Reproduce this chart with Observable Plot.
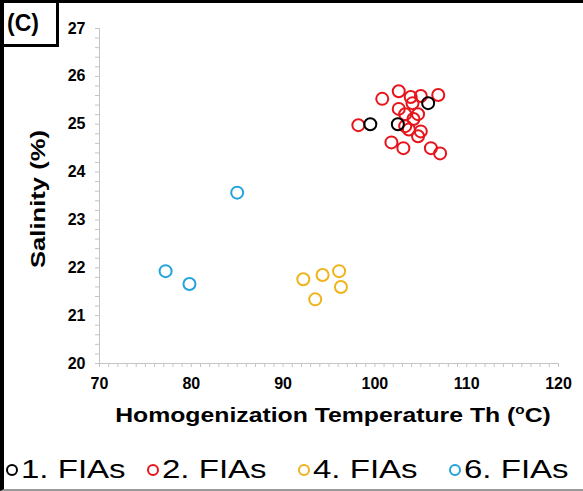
<!DOCTYPE html>
<html><head><meta charset="utf-8">
<script src="https://cdn.jsdelivr.net/npm/d3@7"></script>
<script src="https://cdn.jsdelivr.net/npm/@observablehq/plot@0.6"></script>
<style>
body{margin:0;background:#fff;font-family:"Liberation Sans",Arial,sans-serif;}
#wrap{position:relative;width:583px;height:491px;overflow:hidden;box-sizing:border-box;border-top:3px solid #000;border-left:4px solid #000;border-bottom:2px solid #999;background:#fff;}
#chart{position:absolute;left:-4px;top:-3px;}
#tag{position:absolute;left:0;top:0;width:55px;height:44px;box-sizing:border-box;border-right:3px solid #000;border-bottom:3px solid #000;font-weight:bold;font-size:23px;line-height:41px;padding-left:3px;}
#ylab{position:absolute;left:34px;top:196px;transform:translate(-50%,-50%) rotate(-90deg) scaleX(1.22);font-weight:bold;font-size:21px;white-space:nowrap;}
#xlab{position:absolute;left:329px;top:411px;transform:translate(-50%,-50%) scaleX(1.18);font-weight:bold;font-size:21px;white-space:nowrap;}
#xlab sup{font-size:13px;}
.leg{position:absolute;top:449px;height:34px;white-space:nowrap;}
.leg span.m{position:absolute;left:0;top:12px;width:8px;height:8px;border-radius:50%;border:2px solid;}
.leg span.t{position:absolute;left:15px;top:0;font-size:26px;line-height:34px;transform:scaleX(1.27);transform-origin:0 50%;}
</style></head>
<body>
<div id="wrap">
  <div id="chart"></div>
  <div id="tag">(C)</div>
  <div id="ylab">Salinity (%)</div>
  <div id="xlab">Homogenization Temperature Th (<sup>o</sup>C)</div>
  <div id="legend"></div>
</div>
<script>
const seriesNames = ["1. FIAs", "2. FIAs", "4. FIAs", "6. FIAs"];
const seriesColors = ["#000000", "#e8141b", "#f0b31c", "#22a3dc"];

const fia1Th  = [99.5, 102.5, 105.8];
const fia1Sal = [25.0, 25.0, 25.44];

const fia2Th  = [98.2, 100.8, 102.6, 102.6, 101.8, 103.1, 103.9, 104.1, 105.0, 106.9, 104.7, 103.3, 104.2, 103.7, 105.0, 104.7, 106.1, 107.1, 103.3];
const fia2Sal = [24.98, 25.53, 25.69, 25.32, 24.62, 24.50, 25.57, 25.44, 25.59, 25.61, 25.21, 25.21, 25.11, 24.89, 24.85, 24.75, 24.50, 24.39, 24.96];

const fia4Th  = [92.2, 94.3, 96.1, 96.3, 93.5];
const fia4Sal = [21.76, 21.85, 21.93, 21.6, 21.34];

const fia6Th  = [85.0, 77.2, 79.8];
const fia6Sal = [23.57, 21.93, 21.66];

const xTicks = [70, 80, 90, 100, 110, 120];
const yTicks = [20, 21, 22, 23, 24, 25, 26, 27];

const groups = [[fia2Th, fia2Sal, 1], [fia1Th, fia1Sal, 0], [fia4Th, fia4Sal, 2], [fia6Th, fia6Sal, 3]];
const data = groups.flatMap(([xs, ys, k]) => xs.map((x, i) => ({th: x, sal: ys[i], s: seriesNames[k]})));

const xMinor = d3.range(70, 120.001, 1);
const yMinor = d3.range(20, 27.001, 0.2);

const plot = Plot.plot({
  width: 583, height: 400,
  marginLeft: 99, marginRight: 25, marginTop: 28, marginBottom: 37,
  style: {fontFamily: "'Liberation Sans', Arial, sans-serif", fontSize: "16px", fontWeight: "bold", background: "transparent", color: "#000"},
  x: {domain: [70, 120]},
  y: {domain: [20, 27]},
  color: {domain: seriesNames, range: seriesColors},
  marks: [
    Plot.axisX({ticks: xMinor, tickSize: 4, tickFormat: () => "", stroke: "#c4c4c4", label: null}),
    Plot.axisY({ticks: yMinor, tickSize: 4, tickFormat: () => "", stroke: "#c4c4c4", label: null}),
    Plot.axisX({ticks: xTicks, tickSize: 0, tickPadding: 14, tickFormat: d3.format("d"), fill: "#000", fontSize: 16, fontWeight: "bold", label: null}),
    Plot.axisY({ticks: yTicks, tickSize: 0, tickPadding: 14, tickFormat: d3.format("d"), fill: "#000", fontSize: 16, fontWeight: "bold", label: null}),
    Plot.ruleY([20], {stroke: "#c4c4c4"}),
    Plot.ruleX([70], {stroke: "#c4c4c4"}),
    Plot.dot(data, {x: "th", y: "sal", stroke: "s", r: 6, strokeWidth: 2})
  ]
});
document.getElementById("chart").appendChild(plot);

const legendLefts = [2, 143, 294, 445];
const leg = document.getElementById("legend");
seriesNames.forEach((n, i) => {
  const d = document.createElement("div");
  d.className = "leg";
  d.style.left = legendLefts[i] + "px";
  d.innerHTML = `<span class="m" style="border-color:${seriesColors[i]}"></span><span class="t">${n}</span>`;
  leg.appendChild(d);
});
</script>
</body></html>
